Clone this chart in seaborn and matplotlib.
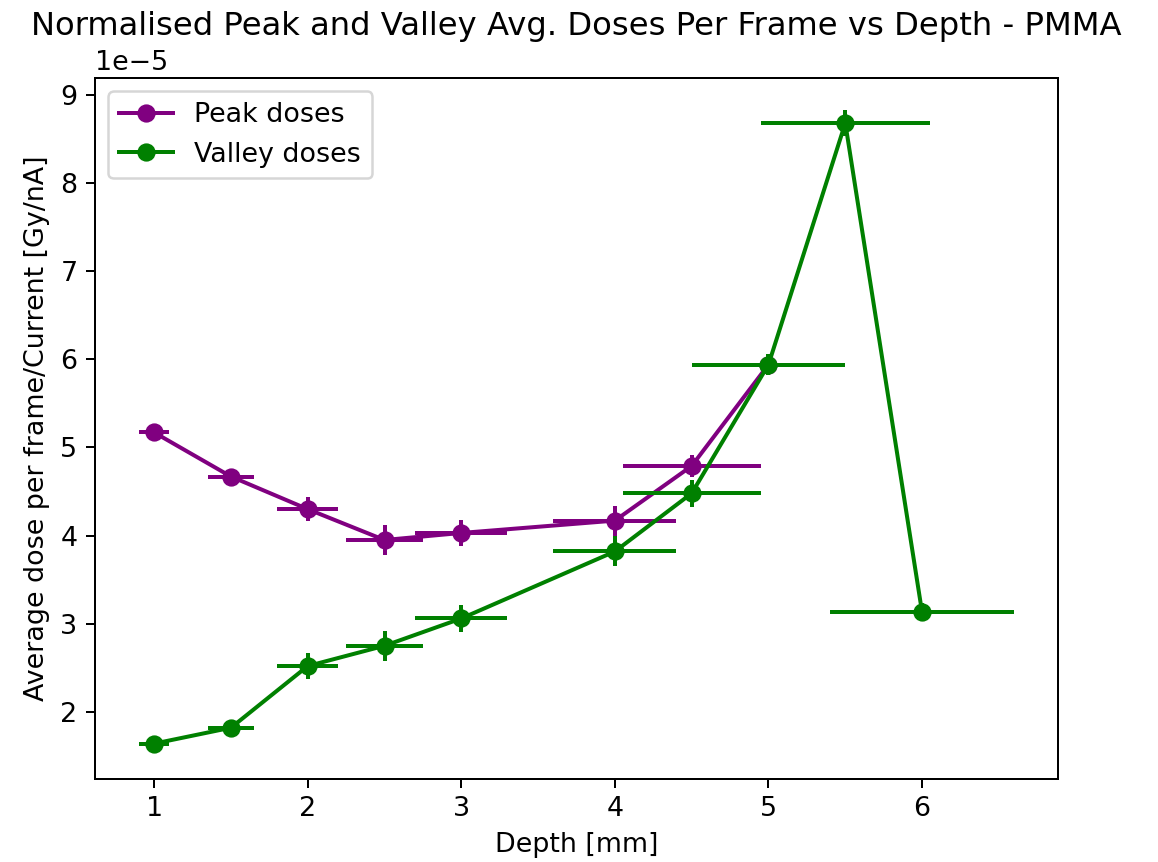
import matplotlib
matplotlib.use("Agg")
import matplotlib.pyplot as plt
import seaborn as sns
import pandas as pd

# Depth positions [mm]
peak_depth = [1.0, 1.5, 2.0, 2.5, 3.0, 4.0, 4.5, 5.0]
valley_depth = [1.0, 1.5, 2.0, 2.5, 3.0, 4.0, 4.5, 5.0, 5.5, 6.0]

# Normalised average dose per frame [Gy/nA]
peak_dose = [5.17e-5, 4.67e-5, 4.30e-5, 3.95e-5, 4.03e-5, 4.17e-5, 4.79e-5, 5.94e-5]
valley_dose = [1.64e-5, 1.82e-5, 2.52e-5, 2.75e-5, 3.06e-5, 3.82e-5, 4.48e-5,
               5.94e-5, 8.68e-5, 3.13e-5]

# Uncertainties
peak_xerr = [0.10, 0.15, 0.20, 0.25, 0.30, 0.40, 0.45, 0.50]
peak_yerr = [0.04e-5, 0.05e-5, 0.14e-5, 0.17e-5, 0.15e-5, 0.17e-5, 0.13e-5, 0.12e-5]
valley_xerr = [0.10, 0.15, 0.20, 0.25, 0.30, 0.40, 0.45, 0.50, 0.55, 0.60]
valley_yerr = [0.04e-5, 0.05e-5, 0.15e-5, 0.17e-5, 0.15e-5, 0.17e-5, 0.15e-5,
               0.12e-5, 0.15e-5, 0.10e-5]

plt.rcParams.update({
    "font.family": ["DejaVu Sans"],
    "font.size": 10.75,
    "axes.titlesize": 12.9,
})

fig = plt.figure(figsize=(1158 / 180, 862 / 180), dpi=180)
ax = fig.add_axes([95 / 1158, 1 - 779 / 862, (1058 - 95) / 1158, (779 - 78) / 862])

series = [
    ("Peak doses", "purple", peak_depth, peak_dose, peak_xerr, peak_yerr),
    ("Valley doses", "green", valley_depth, valley_dose, valley_xerr, valley_yerr),
]

for label, color, x, y, xe, ye in series:
    df = pd.DataFrame({"depth": x, "dose": y})
    sns.lineplot(data=df, x="depth", y="dose", ax=ax, color=color, marker="o",
                 markersize=6.3, markeredgecolor=color, markeredgewidth=1,
                 linewidth=1.6, label=label, estimator=None, sort=False)
    ax.errorbar(x, y, xerr=xe, yerr=ye, fmt="none", ecolor=color,
                elinewidth=1.6, capsize=0)

ax.set_title("Normalised Peak and Valley Avg. Doses Per Frame vs Depth - PMMA")
ax.set_xlabel("Depth [mm]")
ax.set_ylabel("Average dose per frame/Current [Gy/nA]")
ax.set_xticks([1, 2, 3, 4, 5, 6])
ax.margins(0.05)
ax.legend(loc="upper left")

fig.savefig("out.png", dpi=180)
